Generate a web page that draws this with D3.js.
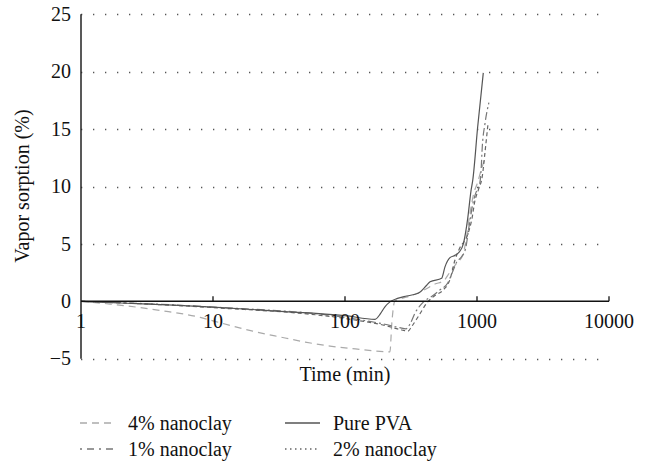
<!DOCTYPE html>
<html><head><meta charset="utf-8">
<script src="https://cdn.jsdelivr.net/npm/d3@7/dist/d3.min.js"></script>
<style>
html,body{margin:0;padding:0;background:#fff;}
svg{display:block;}
</style></head>
<body>
<svg id="c" width="646" height="462"></svg>
<script>
// ---- data ----
const xTicks = [1, 10, 100, 1000, 10000];
const yTicks = [-5, 0, 5, 10, 15, 20, 25];
const gridValues = [-5, 5, 10, 15, 20, 25];

const pvaT = [1, 2, 5, 10, 30, 100, 169, 185, 200, 219, 250, 293, 359, 416, 441, 540, 572, 624, 680, 735, 788, 850, 900, 930, 1012, 1116];
const pvaV = [0, -0.15, -0.33, -0.5, -0.85, -1.25, -1.57, -1.1, -0.5, -0.05, 0.25, 0.46, 0.7, 1.4, 1.7, 2.0, 3.0, 3.8, 4.0, 4.3, 5.0, 7.2, 9.6, 10.6, 15.2, 19.9];

const nc1T = [1, 10, 100, 200, 260, 290, 310, 340, 390, 464, 525, 600, 650, 700, 766, 820, 870, 930, 1000, 1036, 1071, 1097, 1150, 1230];
const nc1V = [0, -0.5, -1.4, -2.0, -2.3, -2.4, -2.0, -1.0, -0.1, 0.5, 1.0, 1.6, 2.5, 3.4, 3.9, 4.6, 6.5, 8.5, 9.7, 10.0, 11.2, 13.5, 15.5, 17.3];

const nc2T = [1, 10, 100, 200, 270, 300, 320, 360, 420, 480, 556, 624, 681, 730, 855, 912, 966, 1024, 1100, 1150, 1215];
const nc2V = [0, -0.55, -1.5, -2.1, -2.5, -2.6, -2.2, -1.3, -0.1, 0.5, 1.0, 1.9, 3.6, 4.5, 5.9, 7.1, 8.8, 9.7, 11.0, 13.0, 15.6];

const nc4T = [1, 1.66, 4, 8, 10, 20, 32, 50, 77, 120, 219, 226, 238, 260, 320, 400, 480, 560, 620, 700, 780, 830, 880, 950, 1000, 1080, 1150];
const nc4V = [0, -0.24, -0.8, -1.4, -1.7, -2.6, -3.1, -3.55, -3.9, -4.15, -4.4, -2.0, 0, 0.2, 0.5, 1.0, 1.5, 1.8, 2.5, 3.3, 4.0, 5.5, 7.5, 9.5, 10.2, 11.5, 12.5];

const seriesNames = ["4% nanoclay", "1% nanoclay", "Pure PVA", "2% nanoclay"];

// ---- chart ----
const FONT = "'Times New Roman', 'Liberation Serif', 'DejaVu Serif', serif";
const svg = d3.select("#c");
const x = d3.scaleLog().domain([1, 10000]).range([81, 609]);
const y = d3.scaleLinear().domain([-5, 25]).range([358.7, 14.3]);

// gridlines (dotted)
svg.append("g").selectAll("line").data(gridValues).join("line")
  .attr("x1", x(1)).attr("x2", x(10000))
  .attr("y1", d => Math.round(y(d)) + 0.5).attr("y2", d => Math.round(y(d)) + 0.5)
  .attr("stroke", "#555").attr("stroke-width", 1.3)
  .attr("stroke-dasharray", "1.3,10.7");

// series
const styles = {
  "4% nanoclay": {color: "#aaa", dash: "7,5", w: 1.2},
  "1% nanoclay": {color: "#777", dash: "8,3,2,3", w: 1.2},
  "Pure PVA": {color: "#555", dash: null, w: 1.2},
  "2% nanoclay": {color: "#666", dash: "4,3", w: 1.2}
};
const series = [
  {name: "4% nanoclay", t: nc4T, v: nc4V},
  {name: "1% nanoclay", t: nc1T, v: nc1V},
  {name: "2% nanoclay", t: nc2T, v: nc2V},
  {name: "Pure PVA", t: pvaT, v: pvaV}
];
const line = d3.line().x(d => x(d[0])).y(d => y(d[1])).curve(d3.curveMonotoneX);
series.forEach(s => {
  const st = styles[s.name];
  svg.append("path")
    .datum(s.t.map((t, i) => [t, s.v[i]]))
    .attr("d", line).attr("fill", "none")
    .attr("stroke", st.color).attr("stroke-width", st.w)
    .attr("stroke-dasharray", st.dash);
});

// axes
const y0 = y(0);
svg.append("line").attr("x1", x(1)).attr("x2", x(1)).attr("y1", y(25)).attr("y2", y(-5))
  .attr("stroke", "#222").attr("stroke-width", 1.5);
svg.append("line").attr("x1", x(1)).attr("x2", x(10000)).attr("y1", y0).attr("y2", y0)
  .attr("stroke", "#111").attr("stroke-width", 1.5);
svg.append("g").selectAll("line").data(xTicks.slice(1)).join("line")
  .attr("x1", d => x(d)).attr("x2", d => x(d))
  .attr("y1", y0).attr("y2", y0 - 5)
  .attr("stroke", "#111").attr("stroke-width", 1.3);

const fs = 20;
svg.append("g").selectAll("text").data(xTicks).join("text")
  .attr("x", d => x(d)).attr("y", y0 + 27)
  .attr("text-anchor", "middle").style("font-family", FONT).attr("font-size", fs).attr("fill", "#111")
  .text(d => d3.format("d")(d));
svg.append("g").selectAll("text").data(yTicks).join("text")
  .attr("x", 71).attr("y", d => y(d)).attr("dy", "0.33em")
  .attr("text-anchor", "end").style("font-family", FONT).attr("font-size", fs).attr("fill", "#111")
  .text(d => d < 0 ? "\u2212" + Math.abs(d) : String(d));

svg.append("text").attr("x", 345).attr("y", 381).attr("text-anchor", "middle")
  .style("font-family", FONT).attr("font-size", fs).attr("fill", "#111").text("Time (min)");
svg.append("text").attr("transform", "translate(29,186) rotate(-90)")
  .attr("text-anchor", "middle").style("font-family", FONT).attr("font-size", fs).attr("fill", "#111")
  .text("Vapor sorption (%)");

// legend
const legendStyles = {
  "4% nanoclay": {dash: "7,5"},
  "1% nanoclay": {dash: "2,5,7,5"},
  "Pure PVA": {dash: null},
  "2% nanoclay": {dash: "1.5,3.5"}
};
const legendPos = [
  {name: "4% nanoclay", lx: 80, ly: 423},
  {name: "1% nanoclay", lx: 80, ly: 449},
  {name: "Pure PVA", lx: 285, ly: 423},
  {name: "2% nanoclay", lx: 285, ly: 449}
];
legendPos.forEach(p => {
  const st = styles[p.name];
  svg.append("line").attr("x1", p.lx).attr("x2", p.lx + 35)
    .attr("y1", p.ly).attr("y2", p.ly)
    .attr("stroke", st.color).attr("stroke-width", 1.3)
    .attr("stroke-dasharray", legendStyles[p.name].dash);
  svg.append("text").attr("x", p.lx + 48).attr("y", p.ly).attr("dy", "0.33em")
    .style("font-family", FONT).attr("font-size", fs).attr("fill", "#111").text(p.name);
});
</script>
</body></html>
